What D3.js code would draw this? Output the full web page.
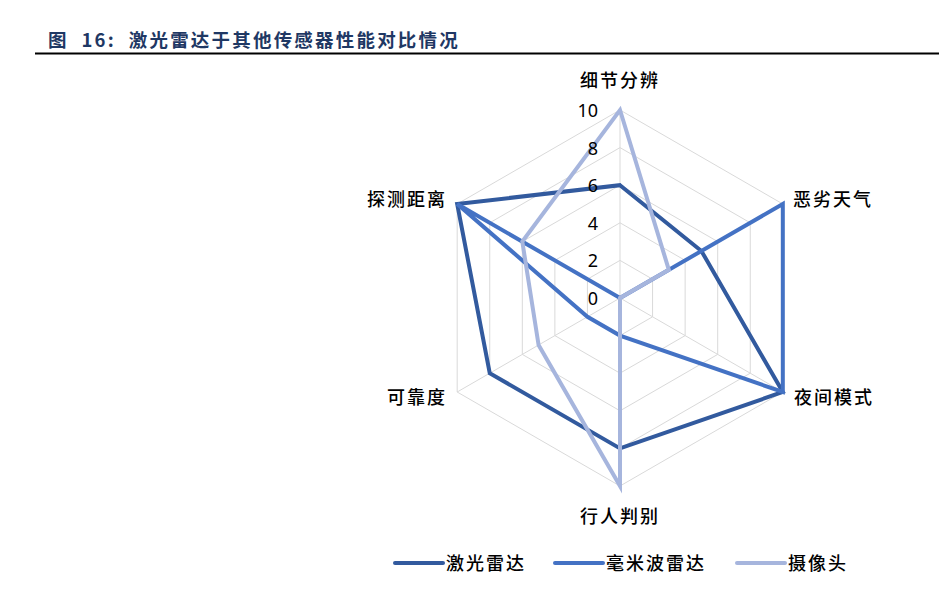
<!DOCTYPE html>
<html>
<head>
<meta charset="utf-8">
<script src="https://cdn.jsdelivr.net/npm/d3@7"></script>
<style>
	body { margin: 0; background: #ffffff; }
	svg { display: block; font-family: "Noto Sans CJK SC", "Noto Sans", sans-serif; }
	text { white-space: pre; }
</style>
</head>
<body>
<div id="chart"></div>
<script>
// Chart data
const axes = ["细节分辨", "恶劣天气", "夜间模式", "行人判别", "可靠度", "探测距离"];
const seriesNames = ["激光雷达", "毫米波雷达", "摄像头"];
const lidar = [6, 5, 10, 8, 8, 10];
const radar = [0, 10, 10, 2, 2, 10];
const camera = [10, 3, 0, 10, 5, 6];
const ticks = [0, 2, 4, 6, 8, 10];
const colors = ["#325A9E", "#4472C4", "#A6B5DD"];

function drawChart() {
	const width = 939, height = 603;
	const cx = 620, cy = 298, R = 188;

	const svg = d3.select("#chart")
		.append("svg")
		.attr("width", width)
		.attr("height", height);

	// Title and rule
	svg.append("text")
		.attr("x", 48)
		.attr("y", 47)
		.attr("fill", "#1F3864")
		.attr("font-size", 18.5)
		.attr("font-weight", "bold")
		.attr("letter-spacing", 2.2)
		.text("图  16:  激光雷达于其他传感器性能对比情况");

	svg.append("line")
		.attr("x1", 35).attr("x2", 939)
		.attr("y1", 53.5).attr("y2", 53.5)
		.attr("stroke", "#000")
		.attr("stroke-width", 2);

	const r = d3.scaleLinear().domain([0, 10]).range([0, R]);
	const angle = d3.scalePoint().domain(axes).range([0, 2 * Math.PI * 5 / 6]);

	const pt = (a, v) => {
		const t = angle(a);
		return [cx + r(v) * Math.sin(t), cy - r(v) * Math.cos(t)];
	};

	const g = svg.append("g");

	// Grid rings
	ticks.slice(1).forEach(t => {
		g.append("polygon")
			.attr("points", axes.map(a => pt(a, t).join(",")).join(" "))
			.attr("fill", "none")
			.attr("stroke", "#D9D9D9")
			.attr("stroke-width", 1);
	});

	// Spokes
	axes.forEach(a => {
		const [x, y] = pt(a, 10);
		g.append("line")
			.attr("x1", cx).attr("y1", cy)
			.attr("x2", x).attr("y2", y)
			.attr("stroke", "#D9D9D9")
			.attr("stroke-width", 1);
	});

	// Series polygons
	const line = d3.line().curve(d3.curveLinearClosed);
	[lidar, radar, camera].forEach((vals, i) => {
		g.append("path")
			.attr("d", line(axes.map((a, j) => pt(a, vals[j]))))
			.attr("fill", "none")
			.attr("stroke", colors[i])
			.attr("stroke-width", 4)
			.attr("stroke-linejoin", "miter");
	});

	// Tick labels
	g.selectAll(".tick")
		.data(ticks)
		.enter()
		.append("text")
		.attr("x", cx - 22)
		.attr("y", d => cy - r(d) + 7)
		.attr("text-anchor", "end")
		.attr("font-family", "Noto Sans, sans-serif")
		.attr("font-size", 18)
		.attr("fill", "#000")
		.text(d => d);

	// Axis labels
	const labelPos = {
		"细节分辨": [cx, 87, "middle"],
		"恶劣天气": [793, 206, "start"],
		"夜间模式": [794, 404, "start"],
		"行人判别": [cx, 523, "middle"],
		"可靠度": [447, 404, "end"],
		"探测距离": [447, 206, "end"]
	};
	axes.forEach(a => {
		const [x, y, anchor] = labelPos[a];
		g.append("text")
			.attr("x", x)
			.attr("y", y)
			.attr("text-anchor", anchor)
			.attr("font-size", 18)
			.attr("font-weight", 500)
			.attr("letter-spacing", 2)
			.attr("fill", "#000")
			.text(a);
	});

	// Legend
	const legendX = [395, 555, 737];
	const legend = svg.append("g");
	seriesNames.forEach((name, i) => {
		legend.append("line")
			.attr("x1", legendX[i]).attr("x2", legendX[i] + 48)
			.attr("y1", 563).attr("y2", 563)
			.attr("stroke", colors[i])
			.attr("stroke-width", 4)
			.attr("stroke-linecap", "round");
		legend.append("text")
			.attr("x", legendX[i] + 51)
			.attr("y", 570)
			.attr("font-size", 18)
			.attr("font-weight", 500)
			.attr("letter-spacing", 2)
			.attr("fill", "#000")
			.text(name);
	});
}

document.addEventListener("DOMContentLoaded", drawChart);
</script>
</body>
</html>
